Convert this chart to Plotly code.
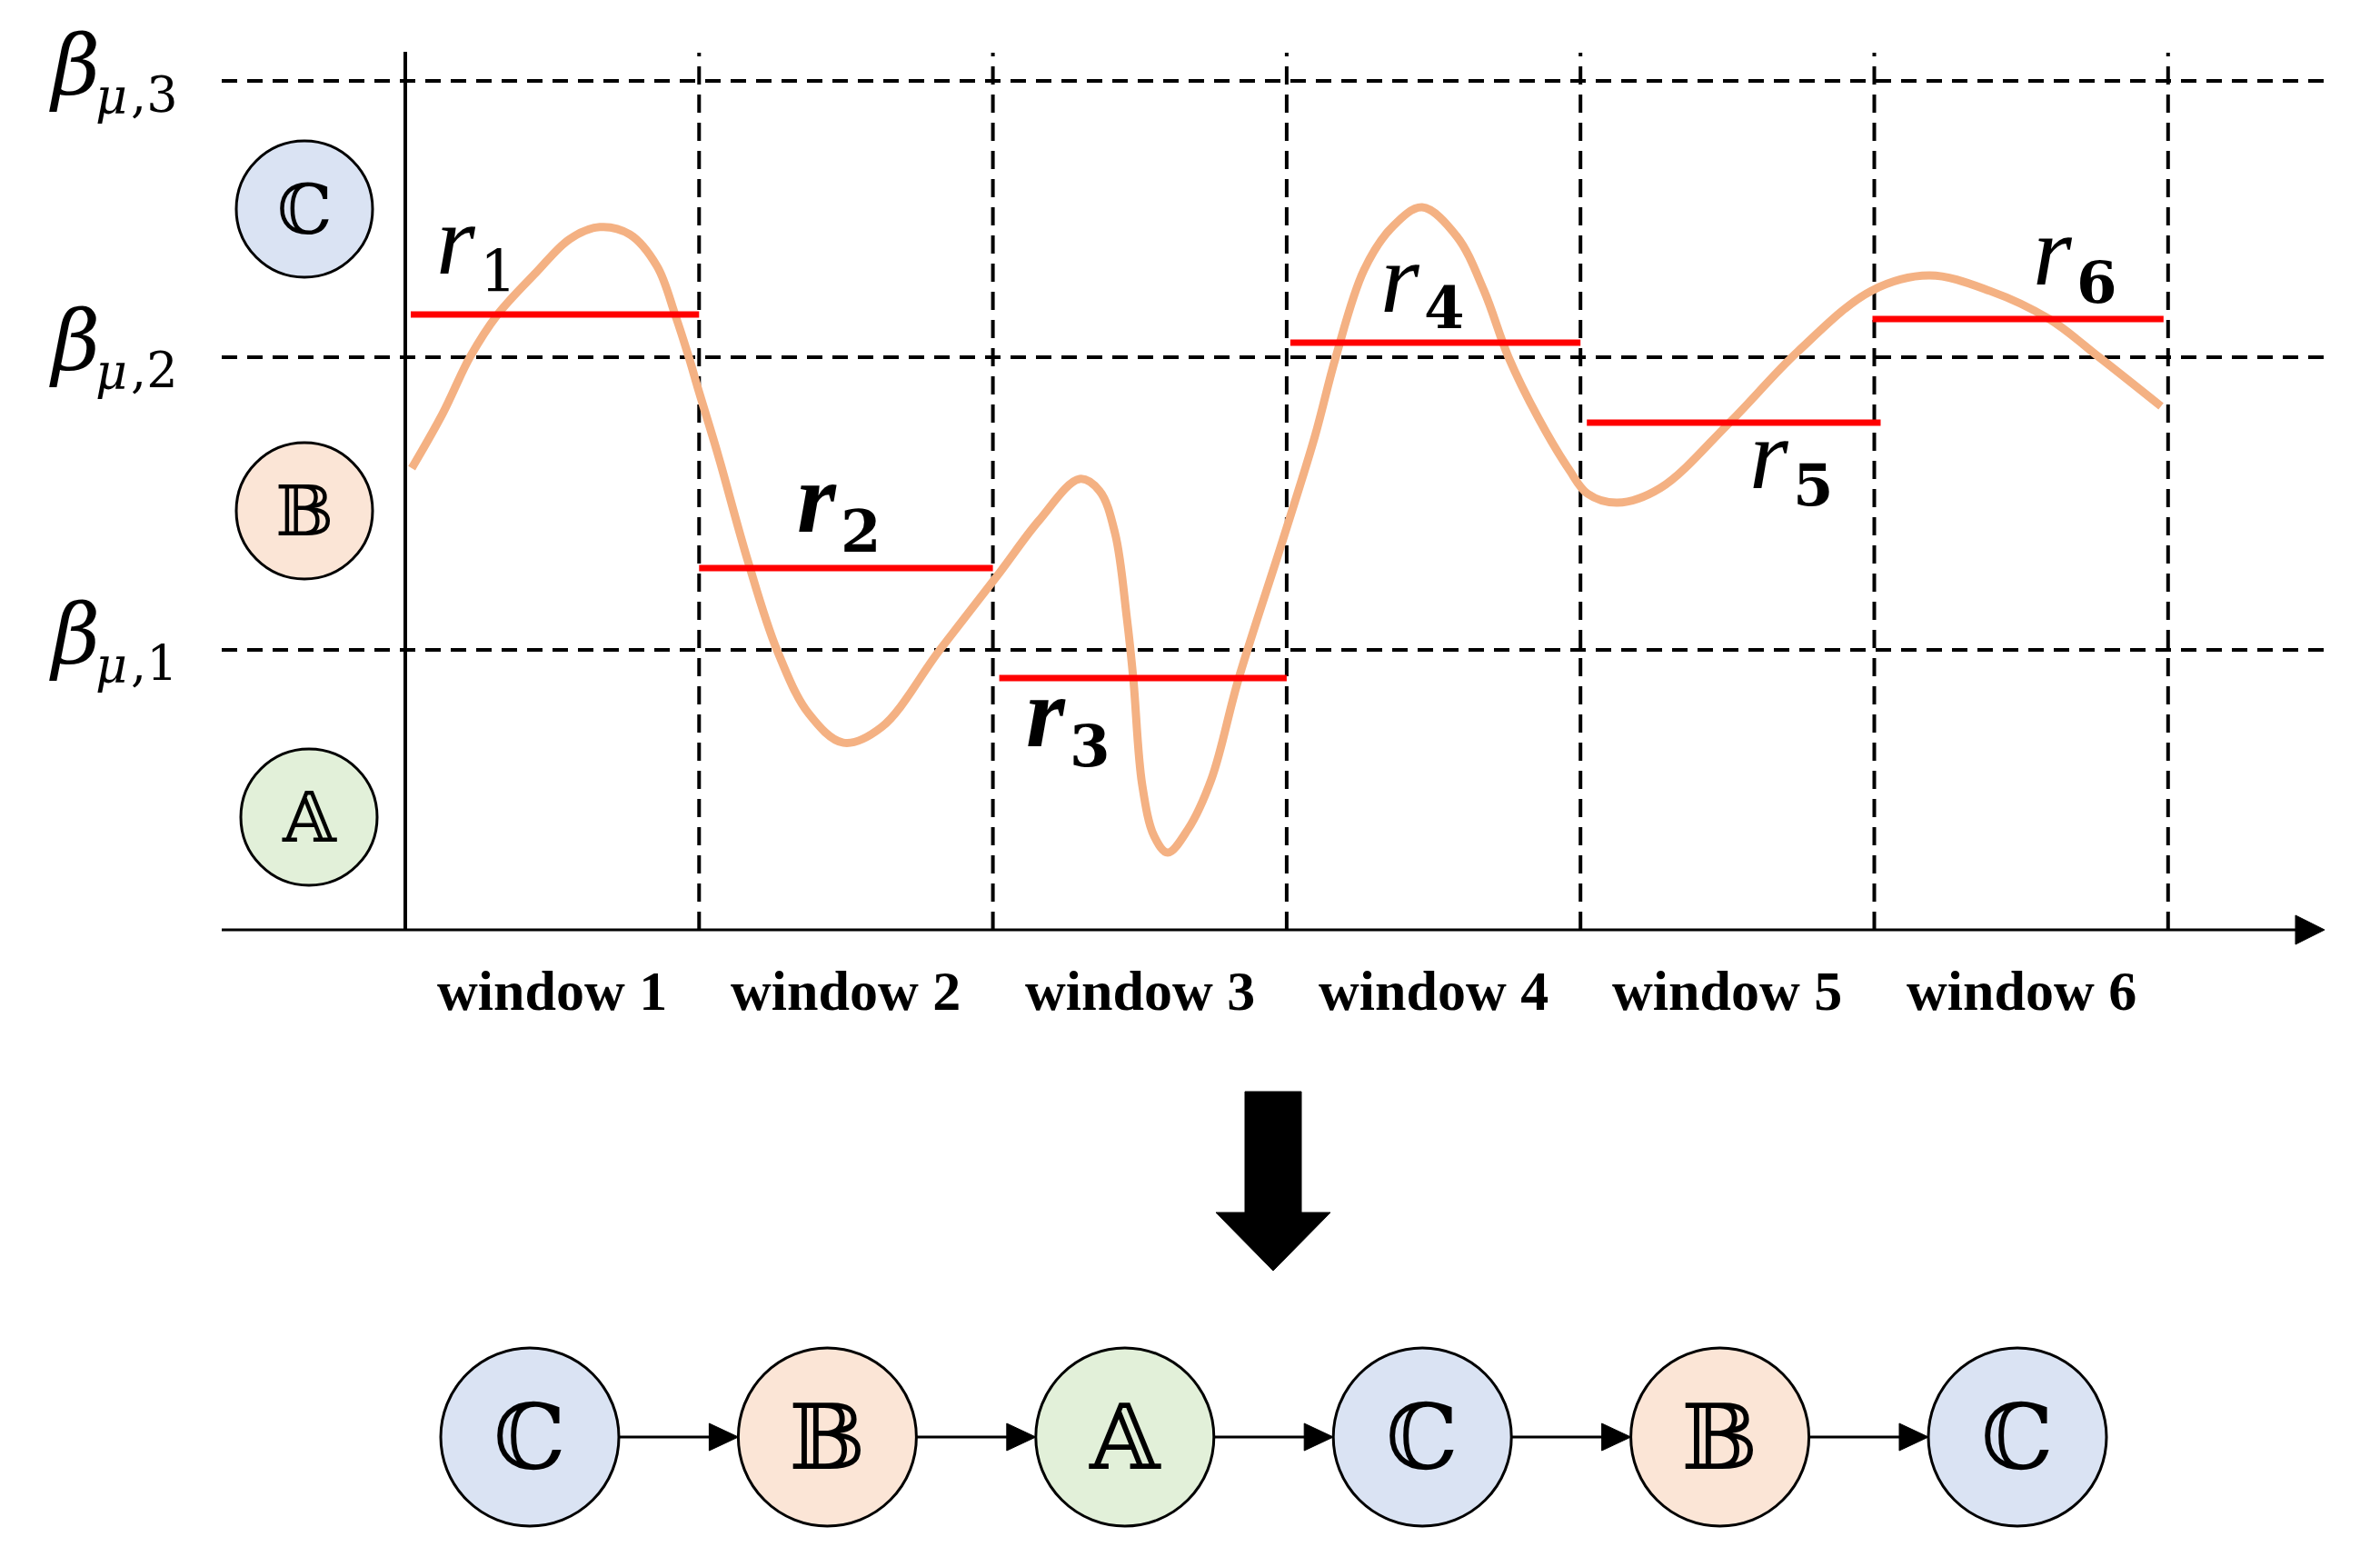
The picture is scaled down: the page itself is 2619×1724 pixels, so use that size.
import plotly.graph_objects as go

# ---------------- data ----------------
windows = ["window 1", "window 2", "window 3", "window 4", "window 5", "window 6"]
beta_levels = [0.99, 2.026, 3.003]          # beta_{mu,1..3}
beta_names = ["1", "2", "3"]
state_letters = ["𝔸", "𝔹", "ℂ"]            # regime below beta1, between, above beta2
state_colors = ["#E2F0D9", "#FBE5D6", "#DAE3F3"]

curve_t = [0.022, 0.127, 0.220, 0.312, 0.445, 0.560, 0.662, 0.764, 0.857, 0.919, 0.965, 0.996,
           1.064, 1.166, 1.265, 1.373, 1.491, 1.621, 1.819,
           2.023, 2.156, 2.295, 2.363, 2.416, 2.456, 2.478, 2.508, 2.549, 2.595, 2.663, 2.744,
           2.836, 2.988, 3.096, 3.167, 3.263, 3.359, 3.461, 3.579, 3.672, 3.755, 3.857, 3.962,
           4.024, 4.126, 4.272, 4.507, 4.739, 4.989,
           5.187, 5.394, 5.595, 5.765, 5.976]
curve_v = [1.633, 1.826, 2.026, 2.174, 2.325, 2.444, 2.486, 2.460, 2.347, 2.174, 2.026, 1.916,
           1.682, 1.305, 0.990, 0.765, 0.662, 0.717, 0.990,
           1.264, 1.447, 1.595, 1.553, 1.402, 1.103, 0.887, 0.514, 0.331, 0.273, 0.354, 0.534,
           0.887, 1.383, 1.746, 2.026, 2.334, 2.486, 2.556, 2.453, 2.260, 2.026, 1.810, 1.627,
           1.543, 1.511, 1.563, 1.794, 2.045, 2.260,
           2.315, 2.260, 2.161, 2.026, 1.852]

r_values = [2.177, 1.280, 0.891, 2.077, 1.794, 2.161]   # window representative levels

# ---------------- layout constants ----------------
W, H = 2619, 1724
X0, Y0 = 446.0, 1023.0        # pixel position of origin
XU, YU = 323.3, 311.0         # pixels per unit
def px_x(p): return (p - X0) / XU
def px_y(p): return (Y0 - p) / YU
def dx(p): return p / XU
def dy(p): return p / YU

x_range = [px_x(0), px_x(W)]
y_range = [px_y(H), px_y(0)]

# regime of each window -> node sequence
def regime(v):
    return sum(1 for b in beta_levels[:2] if v > b)
sequence = [regime(v) for v in r_values]

fig = go.Figure()
shapes = []
ann = []

def text(x, y, s, size, xanchor="center", style="normal", weight="normal", family="DejaVu Serif"):
    ann.append(dict(x=x, y=y, text=s, showarrow=False, xanchor=xanchor, yanchor="middle",
                    borderpad=0,
                    font=dict(family=family, size=size, color="black", style=style, weight=weight)))

# horizontal dashed beta lines
for b in beta_levels:
    shapes.append(dict(type="line", xref="x", yref="y", x0=px_x(244), x1=px_x(2560), y0=b, y1=b,
                       line=dict(color="black", width=4, dash="17px,11px"), layer="below"))
# vertical dashed window boundaries
for k in range(1, len(windows) + 1):
    shapes.append(dict(type="line", xref="x", yref="y", x0=k, x1=k, y0=0, y1=px_y(58),
                       line=dict(color="black", width=4, dash="20px,11px"), layer="below"))
# y axis (solid)
shapes.append(dict(type="line", xref="x", yref="y", x0=0, x1=0, y0=0, y1=px_y(57),
                   line=dict(color="black", width=4), layer="below"))
# x axis with arrow
shapes.append(dict(type="line", xref="x", yref="y", x0=px_x(244), x1=px_x(2530), y0=0, y1=0,
                   line=dict(color="black", width=3), layer="below"))
shapes.append(dict(type="path", xref="x", yref="y",
                   path=f"M {px_x(2526)},{dy(16)} L {px_x(2558)},0 L {px_x(2526)},{-dy(16)} Z",
                   fillcolor="black", line=dict(color="black", width=1)))

# curve
fig.add_trace(go.Scatter(x=curve_t, y=curve_v, mode="lines",
                         line=dict(color="#F4B183", width=9, shape="spline", smoothing=1.0),
                         hoverinfo="skip", showlegend=False))
# red window levels
r_inset = [(dx(6), 0), (0, 0), (dx(7), 0), (dx(4), 0), (dx(7), dx(7)), (-dx(2), -dx(5))]
for i, v in enumerate(r_values):
    a, b = r_inset[i]
    fig.add_trace(go.Scatter(x=[i + a, i + 1 + b], y=[v, v], mode="lines",
                             line=dict(color="#FF0000", width=7),
                             hoverinfo="skip", showlegend=False))

# r labels: split x between 'r' and index, r glyph centre y, index centre y (pixels)
r_lab = [(526, 276, 299), (923, 560, 584), (1175, 796, 820),
         (1565, 318, 338), (1971, 512, 533), (2283, 288, 310)]
r_bold = [False, True, True, False, False, False]
for i, (sx, ry, iy) in enumerate(r_lab):
    text(px_x(sx - 1), px_y(ry - 12), "r", 110, xanchor="right", style="italic",
         weight="bold" if r_bold[i] else "normal", family="Liberation Serif")
    text(px_x(sx + 1), px_y(iy), f"{i+1}", 64, xanchor="left",
         weight="normal" if i == 0 else "bold")

# beta labels
for b, nm in zip(beta_levels, beta_names):
    bp = Y0 - b * YU                      # pixel row of the level
    text(px_x(82), px_y(bp - 17), "β", 92, style="italic")
    text(px_x(141), px_y(bp + 17), "μ", 54, xanchor="right", style="italic")
    text(px_x(143), px_y(bp + 15), f",{nm}", 54, xanchor="left")

# window labels
for i, w in enumerate(windows):
    text(i + 0.5, px_y(1090), w, 62, weight="bold", family="Liberation Serif")

# state circles on the left
left_pos = [(340, 899), (335, 562), (335, 230)]
for s, (cx, cy) in enumerate(left_pos):
    x, y = px_x(cx), px_y(cy)
    shapes.append(dict(type="circle", xref="x", yref="y",
                       x0=x - dx(75), x1=x + dx(75), y0=y - dy(75), y1=y + dy(75),
                       fillcolor=state_colors[s], line=dict(color="black", width=3)))
    text(x, y, state_letters[s], 76)

# big down arrow
ax_l, ax_r, a_top, a_base, h_l, h_r, tip_x, tip_y = 1370, 1432, 1201, 1334, 1338, 1464, 1401, 1398
shapes.append(dict(type="path", xref="x", yref="y",
                   path=(f"M {px_x(ax_l)},{px_y(a_top)} L {px_x(ax_r)},{px_y(a_top)} "
                         f"L {px_x(ax_r)},{px_y(a_base)} L {px_x(h_r)},{px_y(a_base)} "
                         f"L {px_x(tip_x)},{px_y(tip_y)} L {px_x(h_l)},{px_y(a_base)} "
                         f"L {px_x(ax_l)},{px_y(a_base)} Z"),
                   fillcolor="black", line=dict(color="black", width=1)))

# bottom sequence of states
node_y = px_y(1581)
node_r = 98
node_x = [px_x(583 + 327.4 * i) for i in range(len(sequence))]
for i, s in enumerate(sequence):
    x = node_x[i]
    shapes.append(dict(type="circle", xref="x", yref="y",
                       x0=x - dx(node_r), x1=x + dx(node_r),
                       y0=node_y - dy(node_r), y1=node_y + dy(node_r),
                       fillcolor=state_colors[s], line=dict(color="black", width=3)))
    text(x, node_y, state_letters[s], 100)
    if i < len(sequence) - 1:
        xs = x + dx(node_r)
        xe = node_x[i + 1] - dx(node_r)
        shapes.append(dict(type="line", xref="x", yref="y", x0=xs, x1=xe - dx(20),
                           y0=node_y, y1=node_y, line=dict(color="black", width=3)))
        shapes.append(dict(type="path", xref="x", yref="y",
                           path=f"M {xe - dx(32)},{node_y + dy(15)} L {xe},{node_y} "
                                f"L {xe - dx(32)},{node_y - dy(15)} Z",
                           fillcolor="black", line=dict(color="black", width=1)))

fig.update_layout(
    width=W, height=H, autosize=False,
    margin=dict(l=0, r=0, t=0, b=0, pad=0),
    paper_bgcolor="white", plot_bgcolor="white",
    xaxis=dict(range=x_range, visible=False, fixedrange=True),
    yaxis=dict(range=y_range, visible=False, fixedrange=True),
    shapes=shapes, annotations=ann, showlegend=False,
)

fig.write_html("out.html", config={"displayModeBar": False},
               post_script="document.body.style.margin='0';document.body.style.overflow='hidden';")
